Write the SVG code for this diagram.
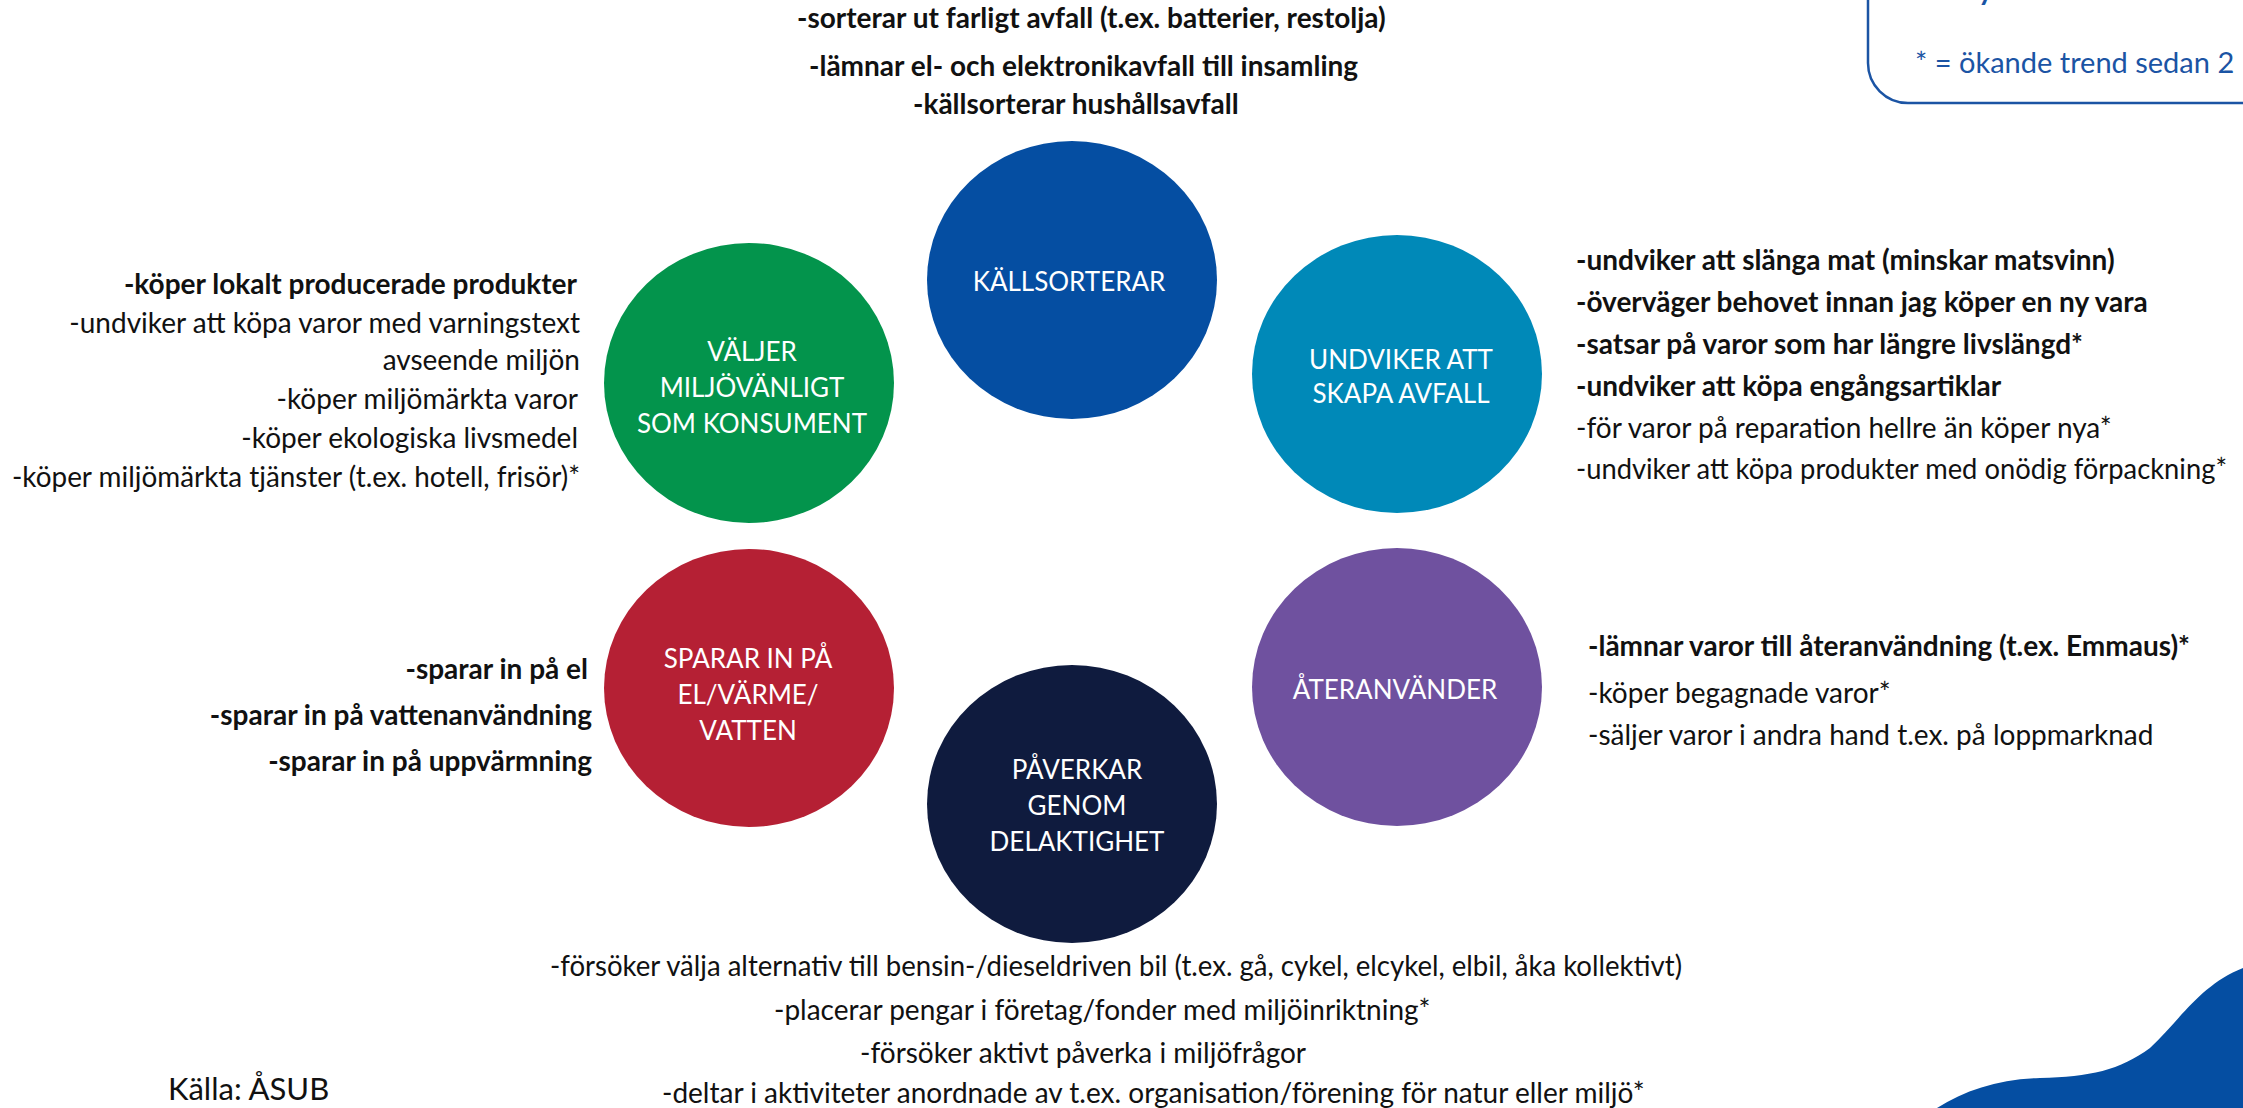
<svg xmlns="http://www.w3.org/2000/svg" width="2243" height="1108" viewBox="0 0 2243 1108">
<style>
.t{font-family:Lato,"Liberation Sans",sans-serif;font-size:28px;fill:#111}
.b{font-weight:700}
.lbl{font-family:Lato,"Liberation Sans",sans-serif;font-size:26px;fill:#fff;text-anchor:middle}
.end{text-anchor:end}
.leg{font-family:Lato,"Liberation Sans",sans-serif;font-size:29px;fill:#1B54A4}
</style>
<rect width="2243" height="1108" fill="#fff"/>
<g id="legend">
<rect x="1868" y="-60" width="500" height="163" rx="40" ry="40" fill="#fff" stroke="#1B54A4" stroke-width="2.5"/>
<text class="leg b" x="1978" y="0">y</text>
<text class="leg" x="1915" y="73">* = ökande trend sedan 2</text>
</g>
<g id="wave"><path d="M1937,1108 C1965,1090 2000,1079 2040,1078 C2090,1077 2120,1070 2150,1048 C2180,1020 2200,985 2243,968 L2243,1108 Z" fill="#054EA2"/></g>
<g id="connectors"/>
<g id="kallsorterar">
<ellipse cx="1072" cy="280" rx="145" ry="139" fill="#054EA2"/>
<text class="lbl" x="1069" y="291">KÄLLSORTERAR</text>
<text class="t b" x="797" y="28">-sorterar ut farligt avfall (t.ex. batterier, restolja)</text>
<text class="t b" x="809" y="76">-lämnar el- och elektronikavfall till insamling</text>
<text class="t b" x="913" y="114">-källsorterar hushållsavfall</text>
</g>
<g id="valjer">
<ellipse cx="749" cy="383" rx="145" ry="140" fill="#03944C"/>
<text class="lbl" x="752" y="361">VÄLJER</text>
<text class="lbl" x="752" y="397">MILJÖVÄNLIGT</text>
<text class="lbl" x="752" y="433">SOM KONSUMENT</text>
<text class="t b end" x="577" y="294">-köper lokalt producerade produkter</text>
<text class="t end" x="580" y="333">-undviker att köpa varor med varningstext</text>
<text class="t end" x="580" y="370">avseende miljön</text>
<text class="t end" x="578" y="409">-köper miljömärkta varor</text>
<text class="t end" x="578" y="448">-köper ekologiska livsmedel</text>
<text class="t end" x="580" y="487" textLength="568" lengthAdjust="spacingAndGlyphs">-köper miljömärkta tjänster (t.ex. hotell, frisör)*</text>
</g>
<g id="undviker">
<ellipse cx="1397" cy="374" rx="145" ry="139" fill="#0089B8"/>
<text class="lbl" x="1401" y="369">UNDVIKER ATT</text>
<text class="lbl" x="1401" y="403">SKAPA AVFALL</text>
<text class="t b" x="1576" y="270">-undviker att slänga mat (minskar matsvinn)</text>
<text class="t b" x="1576" y="312">-överväger behovet innan jag köper en ny vara</text>
<text class="t b" x="1576" y="354">-satsar på varor som har längre livslängd*</text>
<text class="t b" x="1576" y="396">-undviker att köpa engångsartiklar</text>
<text class="t" x="1576" y="438">-för varor på reparation hellre än köper nya*</text>
<text class="t" x="1576" y="479" textLength="651" lengthAdjust="spacingAndGlyphs">-undviker att köpa produkter med onödig förpackning*</text>
</g>
<g id="sparar">
<ellipse cx="749" cy="688" rx="145" ry="139" fill="#B52034"/>
<text class="lbl" x="748" y="668">SPARAR IN PÅ</text>
<text class="lbl" x="748" y="704">EL/VÄRME/</text>
<text class="lbl" x="748" y="740">VATTEN</text>
<text class="t b end" x="588" y="679">-sparar in på el</text>
<text class="t b end" x="592" y="725">-sparar in på vattenanvändning</text>
<text class="t b end" x="592" y="771">-sparar in på uppvärmning</text>
</g>
<g id="ateranvander">
<ellipse cx="1397" cy="687" rx="145" ry="139" fill="#6F519F"/>
<text class="lbl" x="1395" y="699">ÅTERANVÄNDER</text>
<text class="t b" x="1588" y="656">-lämnar varor till återanvändning (t.ex. Emmaus)*</text>
<text class="t" x="1588" y="703">-köper begagnade varor*</text>
<text class="t" x="1588" y="745">-säljer varor i andra hand t.ex. på loppmarknad</text>
</g>
<g id="paverkar">
<ellipse cx="1072" cy="804" rx="145" ry="139" fill="#0F1B3E"/>
<text class="lbl" x="1077" y="779">PÅVERKAR</text>
<text class="lbl" x="1077" y="815">GENOM</text>
<text class="lbl" x="1077" y="851">DELAKTIGHET</text>
<text class="t" x="550" y="976" textLength="1132" lengthAdjust="spacingAndGlyphs">-försöker välja alternativ till bensin-/dieseldriven bil (t.ex. gå, cykel, elcykel, elbil, åka kollektivt)</text>
<text class="t" x="774" y="1020">-placerar pengar i företag/fonder med miljöinriktning*</text>
<text class="t" x="860" y="1063">-försöker aktivt påverka i miljöfrågor</text>
<text class="t" x="662" y="1103">-deltar i aktiviteter anordnade av t.ex. organisation/förening för natur eller miljö*</text>
</g>
<g id="source">
<text class="t" x="168" y="1100" style="font-size:31px">Källa: ÅSUB</text>
</g>
</svg>
